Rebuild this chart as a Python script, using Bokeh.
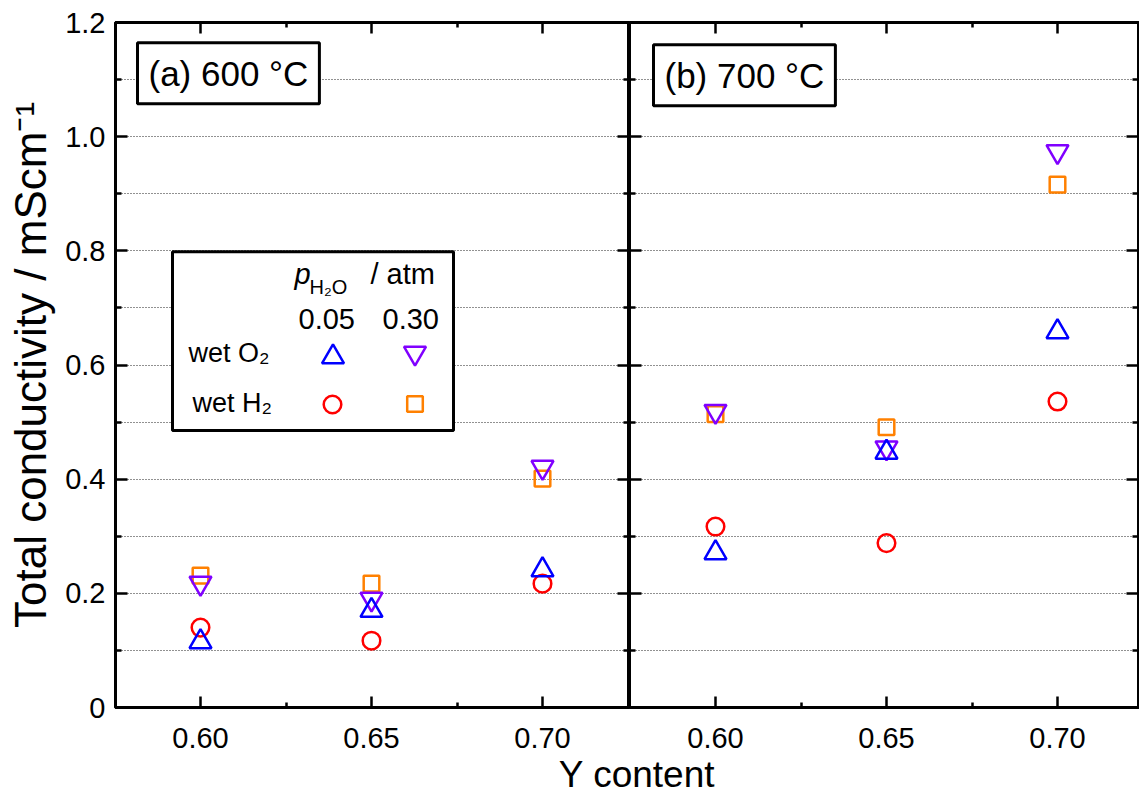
from bokeh.plotting import figure
from bokeh.models import (Range1d, FixedTicker, LinearAxis, CustomJSTickFormatter,
                          Label, BoxAnnotation, Legend, LegendItem)
from bokeh.layouts import row, column
from bokeh.embed import file_html
from bokeh.resources import INLINE

FONT = "Liberation Sans"

# ---------------- data ----------------
y_content = [0.60, 0.65, 0.70]
# 600 C
o2_005_600 = [0.115, 0.170, 0.241]
o2_030_600 = [0.218, 0.190, 0.421]
h2_005_600 = [0.140, 0.117, 0.217]
h2_030_600 = [0.231, 0.217, 0.401]
# 700 C
o2_005_700 = [0.271, 0.447, 0.658]
o2_030_700 = [0.519, 0.455, 0.974]
h2_005_700 = [0.317, 0.288, 0.536]
h2_030_700 = [0.514, 0.491, 0.916]

y_major = [0.0, 0.2, 0.4, 0.6, 0.8, 1.0, 1.2]
y_minor = [0.1, 0.3, 0.5, 0.7, 0.9, 1.1]
y_grid = [0.1, 0.2, 0.3, 0.4, 0.5, 0.6, 0.7, 0.8, 0.9, 1.0, 1.1]
x_major = [0.60, 0.65, 0.70]
x_minor = [0.625, 0.675]

# ---------------- styles ----------------
STY = {
    "o2_005": dict(marker="triangle", color="#0000ff", size=22),
    "o2_030": dict(marker="inverted_triangle", color="#8000ff", size=22),
    "h2_005": dict(marker="circle", color="#ff0000", size=17.6),
    "h2_030": dict(marker="square", color="#ff8000", size=15.6),
}
ORDER = ["h2_030", "o2_030", "h2_005", "o2_005"]

PXX = 3420.0   # px per x unit
PXY = 571.0    # px per y unit
BASE_K = 0.39  # empirical alphabetic-baseline correction (fraction of font size)
MAIN_H = 754
TITLE_H = 43


def style_axis(ax, ticker, fmt, labels, major_in, minor_in):
    ax.ticker = ticker
    ax.axis_line_color = "black"
    ax.axis_line_width = 3
    ax.major_tick_in = major_in
    ax.major_tick_out = 0
    ax.minor_tick_in = minor_in
    ax.minor_tick_out = 0
    ax.major_tick_line_width = 2.5
    ax.minor_tick_line_width = 2.5
    ax.major_tick_line_color = "black"
    ax.minor_tick_line_color = "black"
    ax.major_label_text_font = FONT
    ax.major_label_text_color = "black"
    if labels:
        ax.formatter = fmt
        ax.major_label_text_font_size = "29px"
    else:
        ax.formatter = CustomJSTickFormatter(code="return '';")
        ax.major_label_text_font_size = "1px"
        ax.major_label_standoff = 0


def make_panel(x0, x1, width, b_left, b_right, show_y):
    p = figure(width=width, height=MAIN_H, x_range=Range1d(x0, x1), y_range=Range1d(0, 1.2),
               output_backend="svg", toolbar_location=None,
               min_border_left=b_left, min_border_right=b_right,
               min_border_top=22, min_border_bottom=MAIN_H - 22 - 685)
    p.outline_line_color = "black"
    p.outline_line_width = 3
    p.background_fill_color = "white"
    p.border_fill_color = "white"
    p.xgrid.visible = False
    p.ygrid.ticker = FixedTicker(ticks=y_grid)
    p.ygrid.grid_line_color = "#222222"
    p.ygrid.grid_line_dash = "1 2"
    p.ygrid.grid_line_width = 1
    p.add_layout(LinearAxis(), "above")
    p.add_layout(LinearAxis(), "right")
    xt = FixedTicker(ticks=x_major, minor_ticks=x_minor)
    yt = FixedTicker(ticks=y_major, minor_ticks=y_minor)
    xf = CustomJSTickFormatter(code="return tick.toFixed(2);")
    yf = CustomJSTickFormatter(code="return Math.abs(tick) < 1e-9 ? '0' : tick.toFixed(1);")
    style_axis(p.below[0], xt, xf, True, 11, 5)
    style_axis(p.above[0], xt, xf, False, 11, 5)
    style_axis(p.left[0], yt, yf, show_y, 12, 6)
    style_axis(p.right[0], yt, yf, False, 12, 6)
    p.below[0].major_label_standoff = 20
    if show_y:
        ax = p.left[0]
        ax.major_label_standoff = 10
        ax.axis_label = "Total conductivity / mScm\u207b\u00b9"
        ax.axis_label_text_font = FONT
        ax.axis_label_text_font_size = "44px"
        ax.axis_label_text_font_style = "normal"
        ax.axis_label_text_color = "black"
        ax.axis_label_standoff = 7
    return p


def draw_series(p, data):
    rends = {}
    for key in ORDER:
        s = STY[key]
        rends[key] = p.scatter(y_content, data[key], marker=s["marker"], size=s["size"],
                               fill_color=None, line_color=s["color"], line_width=2.5)
    return rends


# left panel: 0.60 at px 200, frame 115..629
pL = make_panel(0.60 - 85 / PXX, 0.60 - 85 / PXX + 514 / PXX, 629, 115, 0, True)
# right panel: 0.60 at px 715, frame 629..1138
pR = make_panel(0.60 - 86 / PXX, 0.60 - 86 / PXX + 509 / PXX, 510, 0, 1, False)

rL = draw_series(pL, {"o2_005": o2_005_600, "o2_030": o2_030_600,
                      "h2_005": h2_005_600, "h2_030": h2_030_600})
rR = draw_series(pR, {"o2_005": o2_005_700, "o2_030": o2_030_700,
                      "h2_005": h2_005_700, "h2_030": h2_030_700})


def xl(X):
    return 0.60 + (X - 200) / PXX


def xr(X):
    return 0.60 + (X - 715) / PXX


def yy(Y):
    return (707 - Y) / PXY


def panel_label(p, x, y, text):
    p.add_layout(Label(x=x, y=y, text=text, anchor="top_left", padding=11,
                       text_font=FONT, text_font_size="35px", text_color="black",
                       border_line_color="black", border_line_width=3,
                       background_fill_color="white", background_fill_alpha=1.0))


panel_label(pL, xl(137), yy(42), "(a) 600 \u00b0C")
panel_label(pR, xr(653), yy(44), "(b) 700 \u00b0C")

# ---- legend box (left panel) ----
pL.add_layout(BoxAnnotation(left=xl(172), right=xl(453), top=yy(251), bottom=yy(430),
                            fill_color="white", fill_alpha=1.0,
                            line_color="black", line_alpha=1.0, line_width=3))


def txt(p, X, Y, text, size, style="normal"):
    # X: left edge, Y: baseline, both in reference-picture pixels
    p.add_layout(Label(x=xl(X), y=yy(Y - BASE_K * size), text=text, text_font=FONT,
                       text_font_size=f"{size}px", text_font_style=style,
                       text_color="black", text_align="left",
                       text_baseline="alphabetic"))


txt(pL, 294, 285, "p", 29, "italic")
txt(pL, 309, 294, "H\u2082O", 20)
txt(pL, 370, 285, "/ atm", 29)
txt(pL, 298, 330, "0.05", 29)
txt(pL, 382, 330, "0.30", 29)
txt(pL, 188, 363, "wet O\u2082", 27)
txt(pL, 192, 413, "wet H\u2082", 27)


def key(p, rend, cx, cy, box):
    # cx, cy: target pixel centre in picture coords; frame bottom-left at (115, 707)
    p.add_layout(Legend(items=[LegendItem(label=" ", renderers=[rend])],
                        location=(cx - box / 2 - 115, 707 - cy - box / 2),
                        glyph_width=box, glyph_height=box, padding=0, margin=0, spacing=0,
                        label_standoff=0, label_width=0, label_height=0,
                        label_text_font_size="1px",
                        border_line_color=None, background_fill_alpha=0))


key(pL, rL["o2_005"], 332, 356, 55)
key(pL, rL["o2_030"], 414, 352, 55)
key(pL, rL["h2_005"], 332, 404, 44)
key(pL, rL["h2_030"], 414, 403, 39)

# ---- shared x-axis title ----
pX = figure(width=1139, height=TITLE_H, x_range=Range1d(0, 1139), y_range=Range1d(0, TITLE_H),
            output_backend="svg", toolbar_location=None, min_border=0,
            x_axis_type=None, y_axis_type=None)
pX.outline_line_color = None
pX.border_fill_color = "white"
pX.background_fill_color = "white"
# baseline at picture y = 788
pX.add_layout(Label(x=636.5, y=(MAIN_H + TITLE_H - 788) + BASE_K * 37, text="Y content",
                    text_font=FONT, text_font_size="37px", text_color="black",
                    text_align="center", text_baseline="alphabetic"))

layout = column(row(pL, pR), pX)

open("out.html", "w").write(file_html(layout, INLINE))
